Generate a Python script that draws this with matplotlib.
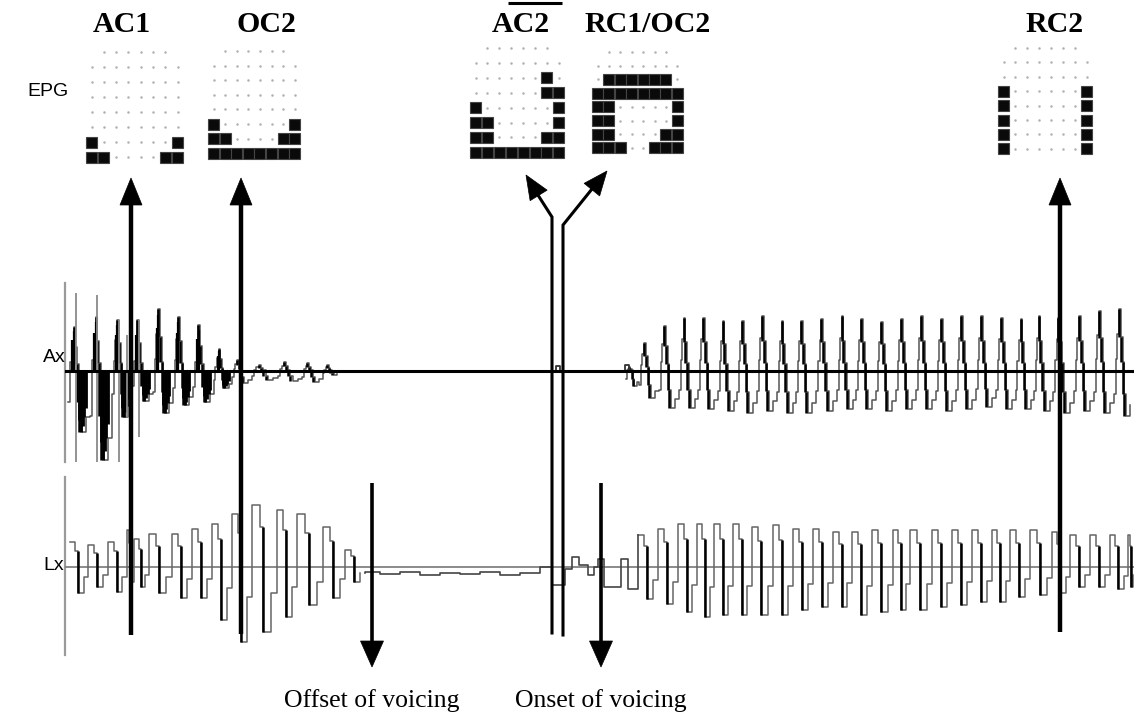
import matplotlib
matplotlib.use("Agg")
import matplotlib.pyplot as plt
from matplotlib.patches import Rectangle, Polygon
import numpy as np

# ---- EPG palatograms: contacted electrodes per row (row 0 = front, 6 electrodes) ----
epg_names = ["AC1", "OC2", "AC2", "RC1/OC2", "RC2"]
epg_contacts = [
    {6: [0, 7], 7: [0, 1, 6, 7]},
    {5: [0, 7], 6: [0, 1, 6, 7], 7: [0, 1, 2, 3, 4, 5, 6, 7]},
    {2: [6], 3: [6, 7], 4: [0, 7], 5: [0, 1, 7], 6: [0, 1, 6, 7], 7: [0, 1, 2, 3, 4, 5, 6, 7]},
    {2: [1, 2, 3, 4, 5, 6], 3: [0, 1, 2, 3, 4, 5, 6, 7], 4: [0, 1, 7], 5: [0, 1, 7],
     6: [0, 1, 6, 7], 7: [0, 1, 2, 5, 6, 7]},
    {3: [0, 7], 4: [0, 7], 5: [0, 7], 6: [0, 7], 7: [0, 7]},
]

# ---- Ax (acoustic) waveform, amplitudes in px above/below baseline ----
ax_early_x = [68, 90, 112, 132, 153, 173, 193, 214, 232, 252, 278, 302, 323]
ax_early_peak = [44, 54, 51, 51, 62, 54, 46, 22, 11, 6, 9, 8, 6]
ax_early_trough = [-61, -89, -46, -30, -42, -34, -31, -17, -12, -9, -10, -11, -4]
ax_spike_x = [76, 97, 119, 127, 139]
ax_spike_top = [78, 76, 51, 36, 51]
ax_spike_bot = [-91, -91, -91, -46, -66]
ax_bump_x = [553, 622]
ax_bump_amp = [5, 6]
ax_voiced_x = [626, 639, 659, 679, 698, 718, 737, 757, 777, 796, 816, 837, 856, 876,
               896, 916, 936, 956, 976, 996, 1016, 1034, 1053, 1074, 1094, 1114]
ax_voiced_peak = [4, 28, 45, 53, 53, 50, 50, 55, 50, 50, 52, 55, 52, 49,
                  52, 55, 52, 55, 55, 53, 52, 55, 53, 55, 60, 62]
ax_voiced_trough = [-15, -27, -37, -37, -38, -40, -42, -40, -42, -42, -40, -38, -38, -40,
                    -38, -38, -40, -38, -36, -38, -38, -40, -42, -40, -42, -45]

# ---- Lx (laryngograph) waveform ----
lx_early_x = [70, 88, 108, 127, 134, 149, 172, 192, 212, 232, 252, 277, 297, 323, 345]
lx_early_peak = [25, 22, 25, 37, 28, 33, 33, 38, 43, 53, 62, 57, 53, 40, 17]
lx_early_trough = [-26, -20, -25, -37, -20, -26, -31, -31, -53, -75, -65, -50, -38, -31, -15]
lx_quiet_x = [365, 380, 400, 420, 440, 460, 480, 500, 520, 540, 552, 565, 572, 579,
              588, 594, 598, 604, 621, 628]
lx_quiet_v = [-5, -7, -5, -8, -6, -7, -5, -8, -6, 0, -18, -2, 10, 2,
              -8, 0, 8, -20, 8, -22]
lx_voiced_x = [638, 658, 678, 697, 714, 733, 752, 773, 793, 813, 833, 852, 872, 893,
               910, 932, 952, 972, 992, 1010, 1030, 1052, 1070, 1090, 1110, 1128]
lx_voiced_peak = [32, 38, 43, 43, 43, 43, 40, 42, 38, 38, 35, 35, 37, 37,
                  37, 37, 37, 37, 37, 37, 37, 35, 32, 32, 32, 32]
lx_voiced_trough = [-32, -37, -45, -50, -48, -48, -48, -48, -43, -40, -40, -48, -45, -43,
                    -43, -40, -38, -35, -35, -30, -28, -26, -20, -20, -22, -20]

fig = plt.figure(figsize=(11.34, 7.2), dpi=100)
ax = fig.add_axes([0, 0, 1, 1])
ax.set_xlim(0, 1134)
ax.set_ylim(720, 0)
ax.axis("off")

serif = "Liberation Serif"
sans = "Liberation Sans"

# titles
title_x = [122, 266, 521, 648, 1054]
for name, tx in zip(epg_names, title_x):
    ax.text(tx, 24, name, ha="center", va="center", fontsize=21.5,
            fontweight="bold", family=serif)
ax.plot([508, 562], [2.5, 2.5], color="black", lw=2.2, solid_capstyle="butt")

ax.text(48, 92, "EPG", ha="center", va="center", fontsize=14, family=sans)
ax.text(54, 358, "Ax", ha="center", va="center", fontsize=14, family=sans)
ax.text(54, 565, "Lx", ha="center", va="center", fontsize=14, family=sans)

# palatograms
epg_left = [86, 208, 470, 592, 998]
epg_px = [12.3, 11.6, 11.9, 11.4, 11.9]
epg_top = [52, 51, 48, 52, 48]
epg_py = [15.0, 14.6, 14.9, 13.7, 14.4]
for k in range(len(epg_names)):
    for r in range(8):
        cols = range(1, 7) if r == 0 else range(8)
        for c in cols:
            cx = epg_left[k] + 5.5 + c * epg_px[k]
            cy = epg_top[k] + r * epg_py[k]
            if c in epg_contacts[k].get(r, []):
                ax.add_patch(Rectangle((cx - 5.5, cy - 5.5), 11, 11,
                                       facecolor="#0a0a0a", edgecolor="#444", lw=0.8))
            else:
                ax.plot(cx, cy, "o", ms=1.8, color="#b0b0b0", mec="none")


def build(xs, peaks, troughs, end, shape):
    px, py = [], []
    bounds = list(xs) + [end]
    for i in range(len(xs)):
        w = bounds[i + 1] - bounds[i]
        for f, kind, k in shape:
            px.append(bounds[i] + f * w)
            py.append(k * (peaks[i] if kind == "p" else -troughs[i]))
    return np.array(px), np.array(py)


# cycle templates: (fraction of period, peak/trough, scale)
ax_shape = [(0.0, "t", -0.5), (0.08, "p", 0.2), (0.17, "p", 0.6), (0.25, "p", 1.0),
            (0.33, "p", 0.55), (0.43, "p", 0.15), (0.52, "t", -0.5), (0.62, "t", -1.0),
            (0.82, "t", -0.75)]
lx_shape = [(0.0, "p", 1.0), (0.3, "p", 0.65), (0.45, "t", -1.0), (0.75, "t", -0.4)]

AX_BASE = 371
LX_BASE = 567

# left reference lines and Lx baseline
ax.plot([65, 65], [283, 462], color="#9a9a9a", lw=1.6)
ax.plot([65, 65], [477, 655], color="#9a9a9a", lw=1.6)
ax.plot([66, 1134], [LX_BASE, LX_BASE], color="#777777", lw=1.2)

# Ax
for xs, pk, tr, end in [(ax_early_x, ax_early_peak, ax_early_trough, 340),
                        (ax_voiced_x, ax_voiced_peak, ax_voiced_trough, 1134)]:
    px, py = build(xs, pk, tr, end, ax_shape)
    ax.step(px, AX_BASE - py, where="post", color="#555555", lw=1.1)
    bounds = list(xs) + [end]
    for i in range(len(xs)):
        w = bounds[i + 1] - bounds[i]
        # darker falling side of each cycle
        top = [AX_BASE - pk[i], AX_BASE - 0.55 * pk[i], AX_BASE - 0.15 * pk[i],
               AX_BASE - 0.5 * tr[i]]
        bot = [AX_BASE - 0.55 * pk[i], AX_BASE - 0.15 * pk[i], AX_BASE - 0.5 * tr[i],
               AX_BASE - tr[i]]
        ax.vlines(bounds[i] + np.array([0.25, 0.33, 0.43, 0.52]) * w, top, bot,
                  color="black", lw=1.8)
# dense dark bursts in the first cycles
for i in range(8):
    w = ax_early_x[i + 1] - ax_early_x[i]
    for f, k in [(0.5, 0.8), (0.58, 1.0), (0.66, 0.9), (0.74, 0.75), (0.82, 0.6)]:
        ax.vlines(ax_early_x[i] + f * w, AX_BASE, AX_BASE - k * ax_early_trough[i],
                  color="black", lw=2.0)
    for f, k in [(0.2, 0.7), (0.27, 0.9)]:
        ax.vlines(ax_early_x[i] + f * w, AX_BASE, AX_BASE - k * ax_early_peak[i],
                  color="black", lw=1.6)
ax.vlines(ax_spike_x, AX_BASE - np.array(ax_spike_bot), AX_BASE - np.array(ax_spike_top),
          color="#8a8a8a", lw=1.3)
for bx, ba in zip(ax_bump_x, ax_bump_amp):
    ax.step([bx, bx + 3, bx + 7], [AX_BASE, AX_BASE - ba, AX_BASE], where="post",
            color="#333333", lw=1.3)
ax.plot([66, 1134], [AX_BASE, AX_BASE], color="black", lw=2.2)

# Lx
for xs, pk, tr, end in [(lx_early_x, lx_early_peak, lx_early_trough, 365),
                        (lx_voiced_x, lx_voiced_peak, lx_voiced_trough, 1134)]:
    px, py = build(xs, pk, tr, end, lx_shape)
    ax.step(px, LX_BASE - py, where="post", color="#666666", lw=1.1)
    bounds = list(xs) + [end]
    for i in range(len(xs)):
        w = bounds[i + 1] - bounds[i]
        ax.vlines(bounds[i] + 0.45 * w, LX_BASE - 0.65 * pk[i], LX_BASE - tr[i],
                  color="black", lw=1.8)
ax.step([365] + lx_quiet_x + [638], [LX_BASE - lx_early_trough[-1] * 0.4]
        + [LX_BASE - v for v in lx_quiet_v] + [LX_BASE - lx_voiced_peak[0]],
        where="post", color="#444444", lw=1.2)


def head(tip, direction, length=27, width=22):
    d = np.array(direction, float)
    d /= np.hypot(*d)
    n = np.array([-d[1], d[0]])
    tip = np.array(tip, float)
    base = tip - d * length
    ax.add_patch(Polygon([tip, base + n * width / 2, base - n * width / 2],
                         closed=True, facecolor="black", edgecolor="black", lw=0.5))


# vertical up arrows to palatograms
for x0, y0 in [(131, 635), (241, 634), (1060, 632)]:
    ax.plot([x0, x0], [y0, 200], color="black", lw=3.2, solid_capstyle="butt")
    head((x0, 178), (0, -1))

# forked double arrows
ax.plot([552, 552, 536], [633, 217, 192], color="black", lw=2.2, solid_joinstyle="miter")
head((526, 175), (-26, -42), length=24, width=20)
ax.plot([563, 563, 596], [635, 225, 184], color="black", lw=2.2, solid_joinstyle="miter")
head((607, 171), (43, -53), length=24, width=20)

# voicing arrows
for x0, label in [(372, "Offset of voicing"), (601, "Onset of voicing")]:
    ax.plot([x0, x0], [483, 645], color="black", lw=2.6, solid_capstyle="butt")
    head((x0, 667), (0, 1), length=26, width=23)
    ax.text(x0, 701, label, ha="center", va="center", fontsize=18.5, family=serif)

fig.savefig("out.png", dpi=100)
